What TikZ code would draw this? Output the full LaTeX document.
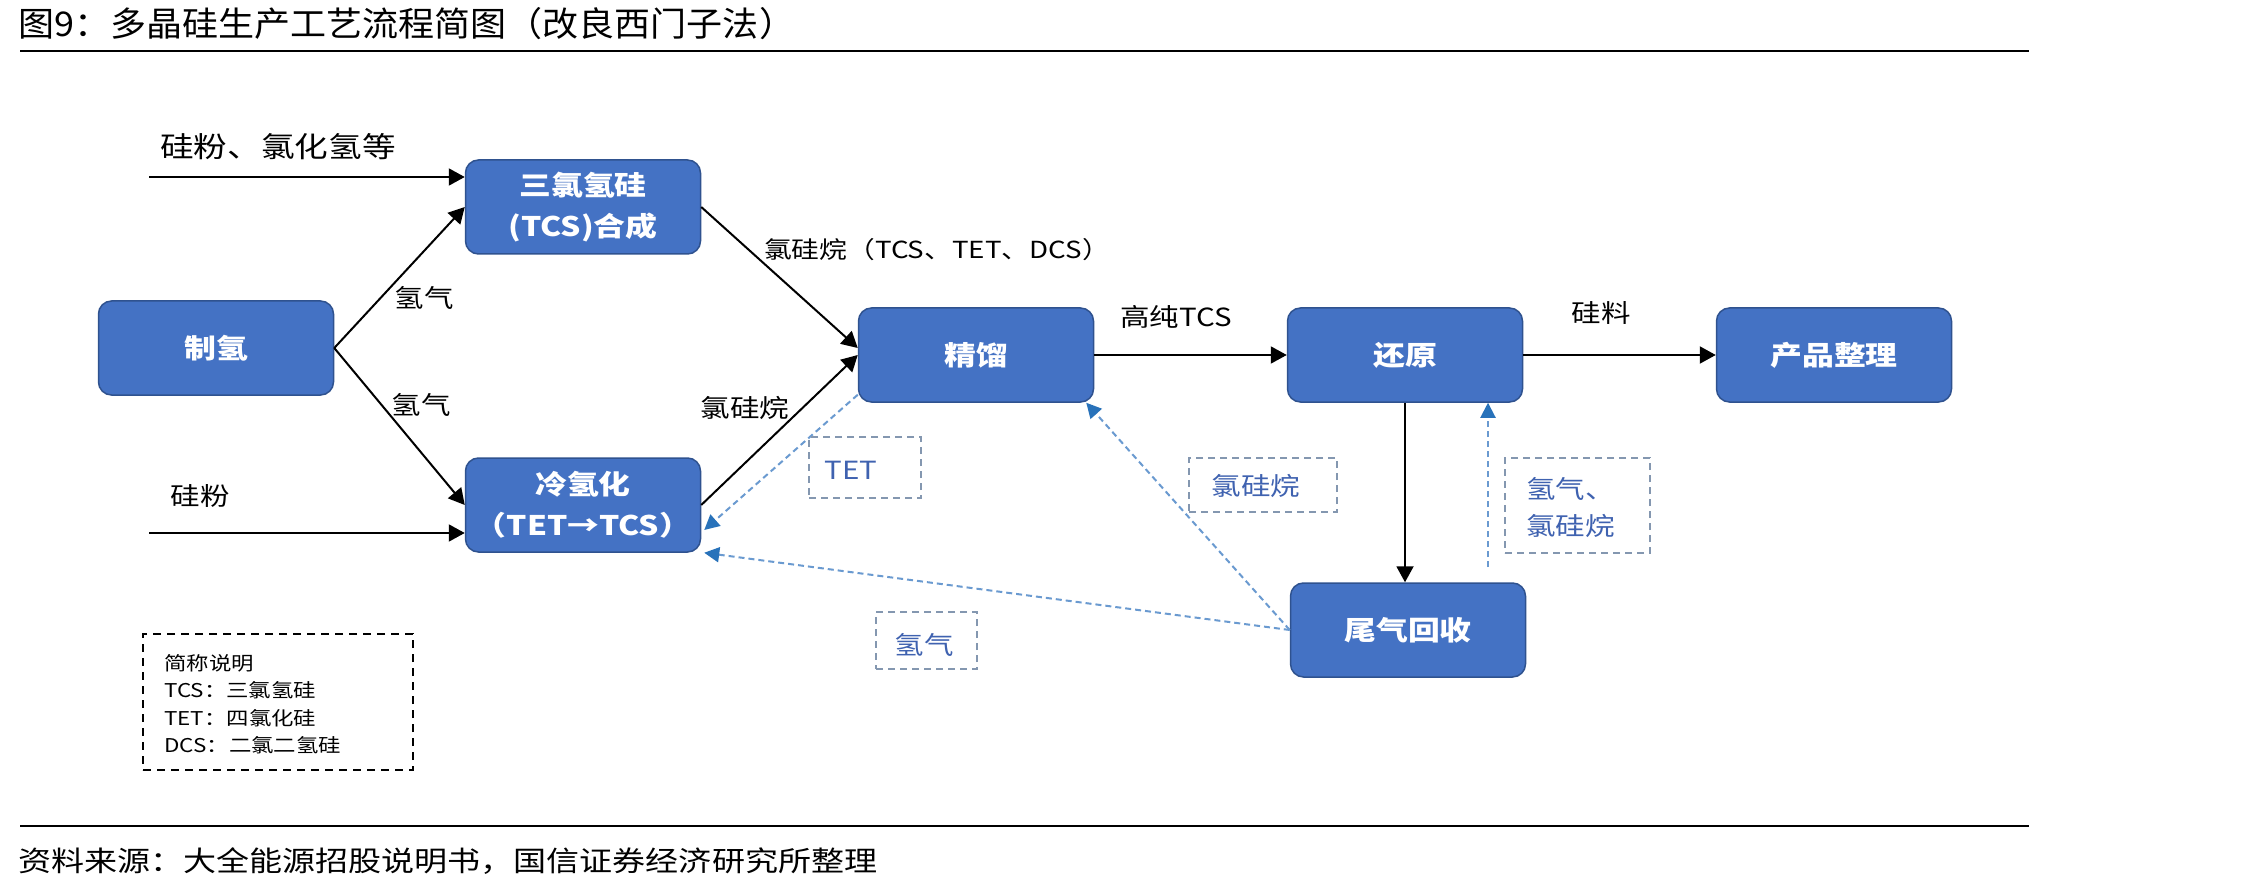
\documentclass[tikz,border=0pt]{standalone}
\usepackage{fontspec}
\setmainfont[FakeStretch=1.18]{Noto Sans CJK SC}
\newfontfamily\titlefont[FakeStretch=1.06]{Noto Sans CJK SC}
\usetikzlibrary{arrows.meta}
\definecolor{boxfill}{HTML}{4472C4}
\definecolor{boxline}{HTML}{2F528F}
\definecolor{dashblue}{HTML}{6A9AD0}
\definecolor{tipblue}{HTML}{2872BA}
\definecolor{lblline}{HTML}{8497B0}
\definecolor{lbltext}{HTML}{3F62B0}
\begin{document}
\begin{tikzpicture}[x=1pt,y=-1pt,
  proc/.style={draw=boxline, line width=1.5pt, fill=boxfill, rounded corners=13pt,
    minimum width=235pt, minimum height=94pt, inner sep=0pt, text=white, align=center,
    font=\bfseries\fontsize{27}{41}\selectfont},
  flow/.style={line width=2pt, -{Triangle[length=16pt,width=17pt]}},
  lbl/.style={inner sep=0pt, font=\fontsize{25}{30}\selectfont},
  ret/.style={dashblue, line width=2pt, dash pattern=on 6pt off 4pt,
    -{Triangle[length=15pt,width=15pt,color=tipblue]}},
  tagbox/.style={draw=lblline, line width=1.5pt, dash pattern=on 7pt off 5pt, inner sep=0pt},
  tagtext/.style={text=lbltext, inner sep=0pt, align=left, font=\fontsize{25}{37}\selectfont}
]
\fill[white] (0,0) rectangle (2244,893);

% title, rules, footer
\node[anchor=west, inner sep=0pt, font=\titlefont\fontsize{34}{40}\selectfont] (title) at (18,24)
  {图9：多晶硅生产工艺流程简图（改良西门子法）};
\draw[line width=2pt] (20,51.5) -- (2029,51.5);
\draw[line width=2pt] (20,826) -- (2029,826);
\node[anchor=west, inner sep=0pt, font=\fontsize{28}{32}\selectfont] (foot) at (18,861)
  {资料来源：大全能源招股说明书，国信证券经济研究所整理};

% process boxes
\node[proc] (zq) at (216,348) {制氢};
\node[proc] (tcs) at (583,207) {三氯氢硅\\(TCS)合成};
\node[proc] (lq) at (583,505) {冷氢化\\（TET→TCS）};
\node[proc] (jl) at (976,355) {精馏};
\node[proc] (hy) at (1405,355) {还原};
\node[proc] (cp) at (1834,355) {产品整理};
\node[proc] (wq) at (1408,630) {尾气回收};

% inputs
\coordinate (src1) at (149,177);
\coordinate (src2) at (149,533);
\node[lbl, font=\fontsize{28.5}{34}\selectfont] (l1) at (278,147) {硅粉、氯化氢等};
\node[lbl] (l2) at (200,496) {硅粉};

% main flows
\draw[flow] (src1) -- (src1 -| tcs.west);
\draw[flow] (src2) -- (src2 -| lq.west);
\draw[flow] (zq.east) -- (tcs.west);
\draw[flow] (zq.east) -- (lq.west);
\draw[flow] (tcs.east) -- ([yshift=7pt]jl.west);
\draw[flow] (lq.east) -- (jl.west);
\draw[flow] (jl.east) -- (hy.west);
\draw[flow] (hy.east) -- (cp.west);
\draw[flow] (hy.south) -- (hy.south |- wq.north);

\node[lbl] (h1) at (424,298) {氢气};
\node[lbl] (h2) at (421,405) {氢气};
\node[lbl, font=\fontsize{23.5}{30}\selectfont] (cs1) at (937,250) {氯硅烷（TCS、TET、DCS）};
\node[lbl] (cs2) at (745,408) {氯硅烷};
\node[lbl] (gc) at (1176,317) {高纯TCS};
\node[lbl] (gl) at (1601,313) {硅料};

% return flows (dashed)
\coordinate (wqn) at (1488,567);
\draw[ret] (wq.west) -- ([xshift=3pt]lq.south east);
\draw[ret] (wq.west) -- ([xshift=-8pt]jl.south east);
\draw[ret] (wqn) -- (wqn |- hy.south);
\draw[ret] ([yshift=8pt]jl.south west) -- ([xshift=3pt,yshift=-25pt]lq.east);

% tags
\node[tagbox, minimum width=112pt, minimum height=61pt] (tetb) at (865,467.5) {};
\node[tagtext] (tett) at (851,470) {TET};
\node[tagbox, minimum width=148pt, minimum height=54pt] (cslb) at (1263,485) {};
\node[tagtext] (cslt) at (1256,486) {氯硅烷};
\node[tagbox, minimum width=101pt, minimum height=57pt] (h2b) at (926.5,640.5) {};
\node[tagtext] (h2t) at (924,645) {氢气};
\node[tagbox, minimum width=145pt, minimum height=95pt] (mixb) at (1577.5,505.5) {};
\node[tagtext, anchor=west] (mixt) at (1526,508) {氢气、\\氯硅烷};

% legend
\node[draw=black, line width=2pt, dash pattern=on 8pt off 6pt, minimum width=270pt,
  minimum height=136pt, inner sep=0pt] (lgd) at (278,702) {};
\node[anchor=west, inner sep=0pt, align=left, font=\fontsize{19}{27.5}\selectfont] (lgdt) at (164,704)
  {简称说明\\TCS：三氯氢硅\\TET：四氯化硅\\DCS：二氯二氢硅};
\end{tikzpicture}
\end{document}
